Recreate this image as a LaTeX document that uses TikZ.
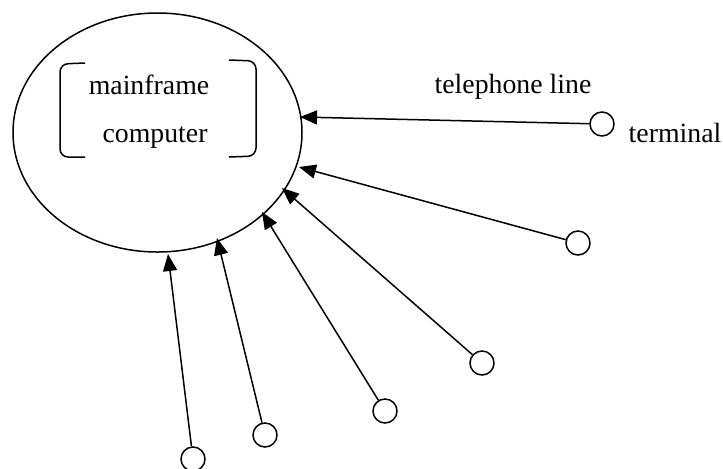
\documentclass[tikz,border=0pt]{standalone}
\usepackage{fontspec}
\setmainfont{Liberation Serif}
\usetikzlibrary{arrows.meta,shapes.geometric}
\begin{document}
\begin{tikzpicture}[x=0.5pt,y=-0.5pt,
  line width=0.75pt,
  term/.style={circle,draw,minimum size=12pt,inner sep=0pt},
  lbl/.style={anchor=base,inner sep=0pt,font=\fontsize{13.9pt}{16pt}\selectfont},
  link/.style={-{Triangle[length=8.5pt,width=7pt]}},
  brk/.style={rounded corners=4pt}]
\useasboundingbox (0,0) rectangle (723,468);
\node[ellipse,draw,minimum width=144.5pt,minimum height=119.5pt,inner sep=0pt] (mf) at (157.5,132.5) {};
\node[lbl] (l1) at (149,94) {mainframe};
\node[lbl] (l2) at (155,142) {computer};
\draw[brk] (85,63) -- (60,64) -- (60,157) -- (85,157);
\draw[brk] (229,60) -- (256,61) -- (256,156) -- (229,157);
\node[lbl] (tl) at (513,93) {telephone line};
\node[lbl] (tm) at (675,142) {terminal};
\node[term] (t1) at (602,124) {};
\node[term] (t2) at (578,243) {};
\node[term] (t3) at (482,363) {};
\node[term] (t4) at (385,411) {};
\node[term] (t5) at (265,435) {};
\node[term] (t6) at (193,459) {};
\coordinate (p1) at (300,117);
\coordinate (p2) at (299,167);
\coordinate (p3) at (282,188);
\coordinate (p4) at (262,212);
\coordinate (p5) at (217,238);
\coordinate (p6) at (168,254);
\foreach \i in {1,...,6}{\draw[link] (t\i) -- (p\i);}
\end{tikzpicture}
\end{document}
